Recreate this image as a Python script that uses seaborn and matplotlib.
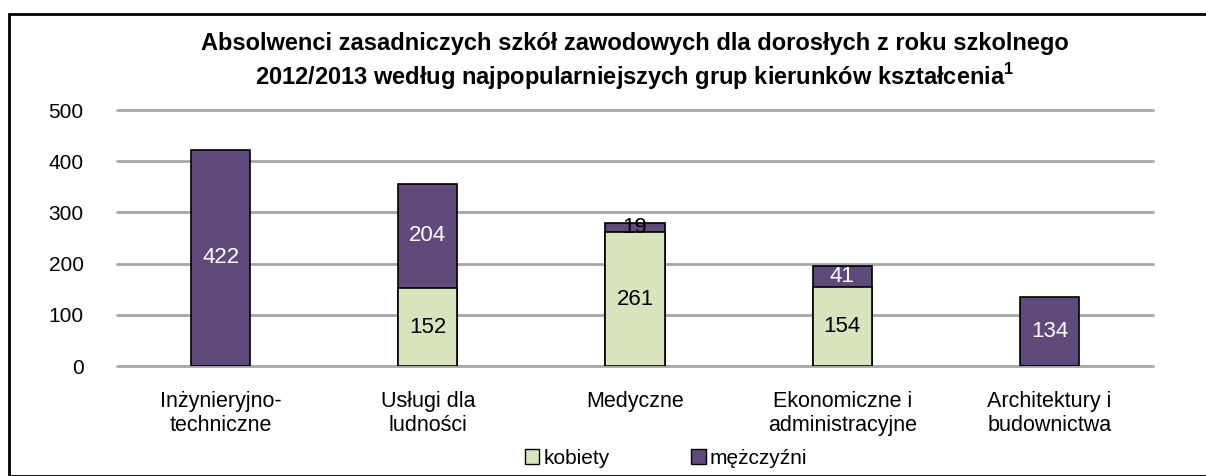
import matplotlib
matplotlib.use("Agg")
import matplotlib.pyplot as plt
import matplotlib.patches as mpatches
import seaborn as sns
import pandas as pd

categories = ["Inżynieryjno-\ntechniczne", "Usługi dla\nludności", "Medyczne",
              "Ekonomiczne i\nadministracyjne", "Architektury i\nbudownictwa"]
kobiety = [0, 152, 261, 154, 0]
mezczyzni = [422, 204, 19, 41, 134]
yticks = [0, 100, 200, 300, 400, 500]

green = "#d7e4bd"
purple = "#604a7b"
grid_col = "#a6a6a6"

sns.set_theme(style="white")
plt.rcParams['font.family'] = ['Liberation Sans', 'DejaVu Sans']
plt.rcParams['text.color'] = 'black'
plt.rcParams['xtick.color'] = 'black'
plt.rcParams['ytick.color'] = 'black'
plt.rcParams['mathtext.fontset'] = 'custom'
plt.rcParams['mathtext.bf'] = 'Liberation Sans:bold'
plt.rcParams['mathtext.rm'] = 'Liberation Sans'

df = pd.DataFrame({"kat": categories, "kobiety": kobiety, "mezczyzni": mezczyzni})
df["razem"] = df["kobiety"] + df["mezczyzni"]

fig = plt.figure(figsize=(12.06, 4.76), dpi=100)
ax = fig.add_axes([117 / 1206, 1 - 366 / 476, (1153 - 117) / 1206, 256 / 476])

# stacked: totals in purple, women drawn over the bottom part
sns.barplot(data=df, x="kat", y="razem", color=purple, width=0.285,
            edgecolor="black", linewidth=1.2, saturation=1, ax=ax)
sns.barplot(data=df, x="kat", y="kobiety", color=green, width=0.285,
            edgecolor="black", linewidth=1.2, saturation=1, ax=ax)

for i, (k, m) in enumerate(zip(kobiety, mezczyzni)):
    if k > 0:
        ax.text(i, k / 2, str(k), ha="center", va="center", fontsize=16, color="black")
    if m > 0:
        col = "black" if m < 30 else "white"
        ax.text(i, k + m / 2, str(m), ha="center", va="center", fontsize=16, color=col)

ax.set_ylim(0, 500)
ax.set_xlim(-0.5, len(categories) - 0.5)
ax.set_yticks(yticks)
ax.set_xlabel("")
ax.set_ylabel("")
for y in yticks:
    ax.axhline(y, color=grid_col, linewidth=2, zorder=0, clip_on=False)
for s in ax.spines.values():
    s.set_visible(False)
ax.tick_params(axis="y", length=0, pad=24, labelsize=15)
ax.tick_params(axis="x", length=0, pad=18, labelsize=15.5)

fig.text(635 / 1206, 1 - 62 / 476,
         "Absolwenci zasadniczych szkół zawodowych dla dorosłych z roku szkolnego\n"
         "2012/2013 według najpopularniejszych grup kierunków kształcenia$^{\\mathbf{1}}$",
         ha="center", va="center", fontsize=17, fontweight="bold", linespacing=1.25)

handles = [mpatches.Patch(facecolor=green, edgecolor="black", label="kobiety"),
           mpatches.Patch(facecolor=purple, edgecolor="black", label="mężczyźni")]
fig.legend(handles=handles, loc="center", bbox_to_anchor=(666 / 1206, 1 - 458 / 476),
           ncol=2, frameon=False, fontsize=15, handlelength=0.7, handleheight=0.7,
           handletextpad=0.2, columnspacing=3.9)

# outer frame of the chart area
fig.patches.append(mpatches.Rectangle((9 / 1206, 0), 1.0, 1 - 14 / 476, transform=fig.transFigure,
                                      fill=False, edgecolor="black", linewidth=2))

fig.savefig("out.png", dpi=100)
